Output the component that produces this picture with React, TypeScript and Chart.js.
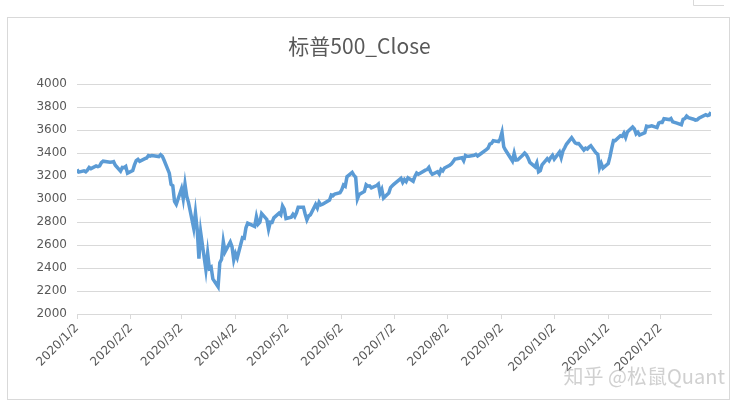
import React, { useEffect, useRef } from "react";
import { Chart, registerables } from "chart.js";

Chart.register(...registerables);

const chartTitle = "标普500_Close";
const watermark = "知乎 @松鼠Quant";

// trading dates (month/day, 2020)
const tradeDates: string[] = [
  "1/2","1/3","1/6","1/7","1/8","1/9","1/10","1/13","1/14","1/15","1/16","1/17","1/21","1/22","1/23","1/24","1/27","1/28","1/29","1/30","1/31",
  "2/3","2/4","2/5","2/6","2/7","2/10","2/11","2/12","2/13","2/14","2/18","2/19","2/20","2/21","2/24","2/25","2/26","2/27","2/28",
  "3/2","3/3","3/4","3/5","3/6","3/9","3/10","3/11","3/12","3/13","3/16","3/17","3/18","3/19","3/20","3/23","3/24","3/25","3/26","3/27","3/30","3/31",
  "4/1","4/2","4/3","4/6","4/7","4/8","4/9","4/13","4/14","4/15","4/16","4/17","4/20","4/21","4/22","4/23","4/24","4/27","4/28","4/29","4/30",
  "5/1","5/4","5/5","5/6","5/7","5/8","5/11","5/12","5/13","5/14","5/15","5/18","5/19","5/20","5/21","5/22","5/26","5/27","5/28","5/29",
  "6/1","6/2","6/3","6/4","6/5","6/8","6/9","6/10","6/11","6/12","6/15","6/16","6/17","6/18","6/19","6/22","6/23","6/24","6/25","6/26","6/29","6/30",
  "7/1","7/2","7/6","7/7","7/8","7/9","7/10","7/13","7/14","7/15","7/16","7/17","7/20","7/21","7/22","7/23","7/24","7/27","7/28","7/29","7/30","7/31",
  "8/3","8/4","8/5","8/6","8/7","8/10","8/11","8/12","8/13","8/14","8/17","8/18","8/19","8/20","8/21","8/24","8/25","8/26","8/27","8/28","8/31",
  "9/1","9/2","9/3","9/4","9/8","9/9","9/10","9/11","9/14","9/15","9/16","9/17","9/18","9/21","9/22","9/23","9/24","9/25","9/28","9/29","9/30",
  "10/1","10/2","10/5","10/6","10/7","10/8","10/9","10/12","10/13","10/14","10/15","10/16","10/19","10/20","10/21","10/22","10/23","10/26","10/27","10/28","10/29","10/30",
  "11/2","11/3","11/4","11/5","11/6","11/9","11/10","11/11","11/12","11/13","11/16","11/17","11/18","11/19","11/20","11/23","11/24","11/25","11/27","11/30",
  "12/1","12/2","12/3","12/4","12/7","12/8","12/9","12/10","12/11","12/14","12/15","12/16","12/17","12/18","12/21","12/22","12/23","12/24","12/28","12/29","12/30","12/31",
];

const closes: number[] = [
  3258,3235,3246,3237,3253,3275,3265,3288,3283,3289,3317,3330,3321,3322,3326,3295,3244,3276,3273,3284,3226,
  3249,3298,3335,3346,3328,3352,3358,3379,3374,3380,3370,3386,3373,3338,3226,3128,3116,2979,2954,
  3090,3003,3130,3024,2972,2747,2882,2741,2481,2711,2386,2529,2398,2409,2305,2237,2447,2476,2630,2541,2627,2585,
  2471,2527,2489,2664,2659,2750,2790,2762,2846,2783,2800,2875,2823,2737,2799,2798,2837,2878,2863,2940,2912,
  2831,2843,2868,2848,2881,2930,2930,2870,2820,2853,2864,2954,2923,2972,2949,2955,2992,3036,3030,3044,
  3056,3081,3123,3112,3194,3232,3207,3190,3002,3041,3067,3125,3113,3115,3098,3118,3131,3050,3084,3009,3053,3100,
  3116,3130,3180,3145,3170,3152,3185,3155,3198,3227,3216,3225,3252,3257,3276,3236,3216,3239,3218,3258,3246,3271,
  3295,3307,3328,3349,3351,3360,3334,3380,3373,3373,3382,3390,3375,3386,3397,3431,3444,3479,3485,3508,3500,
  3527,3581,3455,3427,3332,3399,3339,3341,3384,3401,3385,3357,3319,3281,3316,3237,3247,3298,3352,3335,3363,
  3381,3348,3409,3361,3419,3447,3477,3534,3512,3489,3483,3484,3427,3443,3436,3453,3465,3401,3391,3271,3310,3270,
  3310,3369,3443,3510,3509,3551,3546,3573,3537,3585,3627,3610,3568,3582,3558,3578,3635,3630,3638,3622,
  3662,3669,3667,3699,3692,3702,3673,3668,3663,3647,3695,3701,3722,3709,3695,3687,3690,3703,3735,3727,3732,3756,
];

const yMin = 2000;
const yMax = 4000;
const yStep = 200;
// month tick labels (tick on the 2nd day of each month)
const xTickLabels: string[] = [
  "2020/1/2","2020/2/2","2020/3/2","2020/4/2","2020/5/2","2020/6/2",
  "2020/7/2","2020/8/2","2020/9/2","2020/10/2","2020/11/2","2020/12/2",
];

const DAY = 86400000;
const start = Date.UTC(2020, 0, 2);
const dayOffset = (md: string) => {
  const [m, d] = md.split("/").map(Number);
  return Math.round((Date.UTC(2020, m - 1, d) - start) / DAY);
};
const labelOffset = (lbl: string) => {
  const [y, m, d] = lbl.split("/").map(Number);
  return Math.round((Date.UTC(y, m - 1, d) - start) / DAY);
};

export default function App() {
  const ref = useRef<HTMLCanvasElement | null>(null);

  useEffect(() => {
    if (!ref.current) return;
    const points = tradeDates.map((d, i) => ({ x: dayOffset(d), y: closes[i] }));
    const tickVals = xTickLabels.map(labelOffset);
    const lastDay = dayOffset(tradeDates[tradeDates.length - 1]);

    const decor = {
      id: "decor",
      beforeDraw(chart: any) {
        const ctx = chart.ctx;
        ctx.save();
        ctx.fillStyle = "#ffffff";
        ctx.fillRect(0, 0, chart.width, chart.height);
        ctx.strokeStyle = "#d9d9d9";
        ctx.lineWidth = 1;
        ctx.strokeRect(7.5, 17.5, 722, 382);
        ctx.beginPath();
        ctx.moveTo(693.5, 0);
        ctx.lineTo(693.5, 5.5);
        ctx.lineTo(724, 5.5);
        ctx.stroke();
        ctx.restore();
      },
      afterDraw(chart: any) {
        const ctx = chart.ctx;
        ctx.save();
        ctx.font = '20px "Noto Sans CJK SC"';
        ctx.textBaseline = "alphabetic";
        ctx.textAlign = "right";
        ctx.fillStyle = "rgba(170,170,170,0.55)";
        ctx.fillText(watermark, 725, 384);
        ctx.restore();
      },
    };

    const chart = new Chart(ref.current, {
      type: "line",
      data: {
        datasets: [
          {
            data: points,
            borderColor: "#5B9BD5",
            backgroundColor: "#5B9BD5",
            borderWidth: 3.5,
            pointRadius: 0,
            tension: 0,
            fill: false,
          },
        ],
      },
      options: {
        responsive: false,
        animation: false,
        layout: { padding: { left: 8, right: 32, top: 17, bottom: 8 } },
        plugins: {
          legend: { display: false },
          tooltip: { enabled: false },
          title: {
            display: true,
            text: chartTitle,
            color: "#595959",
            font: { family: '"Noto Sans CJK SC"', size: 21, weight: "normal" },
            padding: { top: 16, bottom: 26 },
          },
        },
        scales: {
          x: {
            type: "linear",
            min: 0,
            max: lastDay,
            afterBuildTicks(scale: any) {
              scale.ticks = tickVals.map((v) => ({ value: v }));
            },
            afterFit(scale: any) {
              scale.height = 86;
            },
            ticks: {
              autoSkip: false,
              minRotation: 45,
              maxRotation: 45,
              padding: 2,
              color: "#595959",
              font: { family: '"DejaVu Sans"', size: 12 },
              callback: (v: any) => {
                const i = tickVals.indexOf(Number(v));
                return i >= 0 ? xTickLabels[i] : "";
              },
            },
            grid: {
              display: true,
              drawOnChartArea: false,
              drawTicks: true,
              tickLength: 5,
              color: "#d9d9d9",
            },
            border: { display: true, color: "#d9d9d9" },
          },
          y: {
            min: yMin,
            max: yMax,
            afterFit(scale: any) {
              scale.width = 69;
            },
            ticks: {
              stepSize: yStep,
              padding: 10,
              color: "#595959",
              font: { family: '"DejaVu Sans"', size: 12 },
              callback: (v: any) => String(v),
            },
            grid: { color: "#d9d9d9", drawTicks: false },
            border: { display: false },
          },
        },
      },
      plugins: [decor],
    } as any);
    return () => chart.destroy();
  }, []);

  return (
    <div style={{ position: "absolute", left: 0, top: 0, width: 743, height: 408, background: "#fff" }}>
      <canvas ref={ref} width={743} height={408} style={{ display: "block" }} />
    </div>
  );
}
